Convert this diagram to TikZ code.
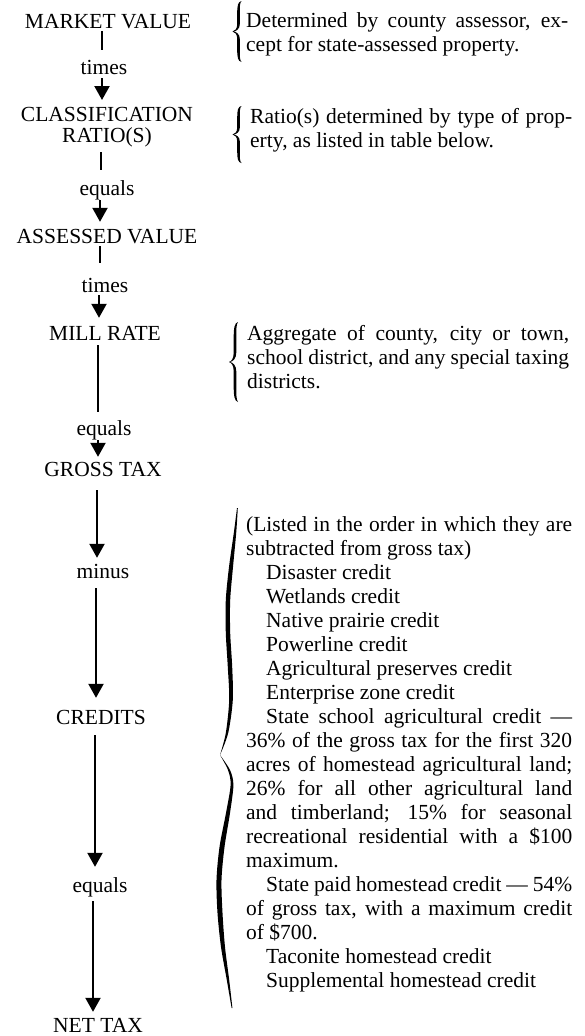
\documentclass[tikz,border=0pt]{standalone}
\usepackage{fontspec}
\setmainfont{Liberation Serif}
\usetikzlibrary{arrows.meta}
\newcommand\myconn[6]{\draw[#1,shorten <=#5pt,shorten >=#6pt] ([xshift=#4pt]#2.south) -- ([xshift=#4pt]#2.south |- #3.north);}
\newcommand\mybrace[3]{%
\begin{scope}[shift={(#1,#2)}, yscale={#3-#2}]
\fill (3,0) .. controls (-0.6,0.01) and (-1.3,0.08) .. (-1.3,0.2) -- (-1.3,0.38)
  .. controls (-1.3,0.46) and (-3.5,0.49) .. (-6,0.5)
  .. controls (-3.5,0.51) and (-1.3,0.54) .. (-1.3,0.62) -- (-1.3,0.8)
  .. controls (-1.3,0.92) and (-0.6,0.99) .. (3,1)
  .. controls (1.3,0.97) and (1.3,0.92) .. (1.3,0.8) -- (1.3,0.62)
  .. controls (1.3,0.545) and (-2,0.505) .. (-5,0.5)
  .. controls (-2,0.495) and (1.3,0.455) .. (1.3,0.38) -- (1.3,0.2)
  .. controls (1.3,0.08) and (1.3,0.03) .. (3,0) -- cycle;
\end{scope}}
\begin{document}
\begin{tikzpicture}[x=1pt,y=-1pt,
  lab/.style={font=\fontsize{21.5}{24}\selectfont, inner sep=0pt, text height=15pt, text depth=0pt, anchor=base},
  ln/.style={line width=2.2pt},
  ar/.style={line width=2.2pt,-{Triangle[width=15pt,length=14pt]}},
  note/.style={font=\fontsize{21.5}{24}\selectfont, inner sep=0pt, anchor=north west, align=justify, text width=322pt}]
\useasboundingbox (0,0) rectangle (584,1036);
% left column
\node[lab] (mv) at (108,28) {MARKET VALUE};
\node[lab] (t1) at (104,74) {times};
\node[font=\fontsize{21.5}{21}\selectfont, inner sep=0pt, align=center, anchor=north] (cr) at (107,107.5) {CLASSIFICATION\\RATIO(S)};
\node[lab] (e1) at (107,195) {equals};
\node[lab] (av) at (107,243) {ASSESSED VALUE};
\node[lab] (t2) at (105,292) {times};
\node[lab] (mr) at (105,340) {MILL RATE};
\node[lab] (e2) at (104,435) {equals};
\node[lab] (gt) at (103,476) {GROSS TAX};
\node[lab] (mi) at (103,578) {minus};
\node[lab] (cd) at (101,724) {CREDITS};
\node[lab] (e3) at (100,892) {equals};
\node[lab] (nt) at (98,1032.5) {NET TAX};
% connectors
\myconn{ln}{mv}{t1}{-6}{3}{9}
\myconn{ar}{t1}{cr}{-2}{4}{7.5}
\myconn{ln}{cr}{e1}{-6}{4.4}{10}
\myconn{ar}{e1}{av}{-7}{5}{6}
\myconn{ln}{av}{t2}{-7}{3}{14}
\myconn{ar}{t2}{mr}{-6}{3}{7}
\myconn{ln}{mr}{e2}{-7}{5}{8}
\myconn{ar}{e2}{gt}{-6}{5}{4}
\myconn{ar}{gt}{mi}{-6}{14}{5}
\myconn{ar}{mi}{cd}{-7}{10}{11}
\myconn{ar}{cd}{e3}{-6}{11}{10}
\myconn{ar}{e3}{nt}{-7}{9}{5.5}
% notes
\node[note] (n1) at (246,12) {Determined by county assessor, ex-\linebreak cept for state-assessed property.};
\node[note] (n2) at (250,108) {Ratio(s) determined by type of prop-\linebreak erty, as listed in table below.};
\node[note] (n3) at (247,325) {Aggregate of county, city or town,\linebreak school district, and any special taxing\linebreak districts.};
\node[note, text width=326pt] (n4) at (246,516) {(Listed in the order in which they are\linebreak subtracted from gross tax)\par
\hspace*{20pt}Disaster credit\par
\hspace*{20pt}Wetlands credit\par
\hspace*{20pt}Native prairie credit\par
\hspace*{20pt}Powerline credit\par
\hspace*{20pt}Agricultural preserves credit\par
\hspace*{20pt}Enterprise zone credit\par
\hspace*{20pt}State school agricultural credit ---\linebreak 36\% of the gross tax for the first 320\linebreak acres of homestead agricultural land;\linebreak 26\% for all other agricultural land\linebreak and timberland; 15\% for seasonal\linebreak recreational residential with a \$100\linebreak maximum.\par
\hspace*{20pt}State paid homestead credit --- 54\%\linebreak of gross tax, with a maximum credit\linebreak of \$700.\par
\hspace*{20pt}Taconite homestead credit\par
\hspace*{20pt}Supplemental homestead credit};
% small braces
\mybrace{238.5}{1}{62}
\mybrace{238.5}{106}{163}
\mybrace{235}{322}{402}
% big brace
\fill (237,508) -- plot[smooth] coordinates {(237,508) (233.8,533) (229,567) (225.8,600) (225.8,633) (227.8,667) (229.2,700) (225.8,733) (220,755)}
  -- plot[smooth] coordinates {(220,755) (228.2,733) (232.8,700) (232.2,667) (230.2,633) (230.2,600) (233,567) (236.2,533) (237.8,508)} -- cycle;
\fill (220,755) -- plot[smooth] coordinates {(220,755) (228,770) (230.6,785) (226,813) (219.5,847) (216.5,880) (217.5,913) (221,947) (226.8,980) (231.6,1008)}
  -- plot[smooth] coordinates {(232.4,1008) (229.2,980) (225,947) (222.5,913) (221.5,880) (224.5,847) (230,813) (233.4,785) (230,770) (220,755)} -- cycle;
\end{tikzpicture}
\end{document}
